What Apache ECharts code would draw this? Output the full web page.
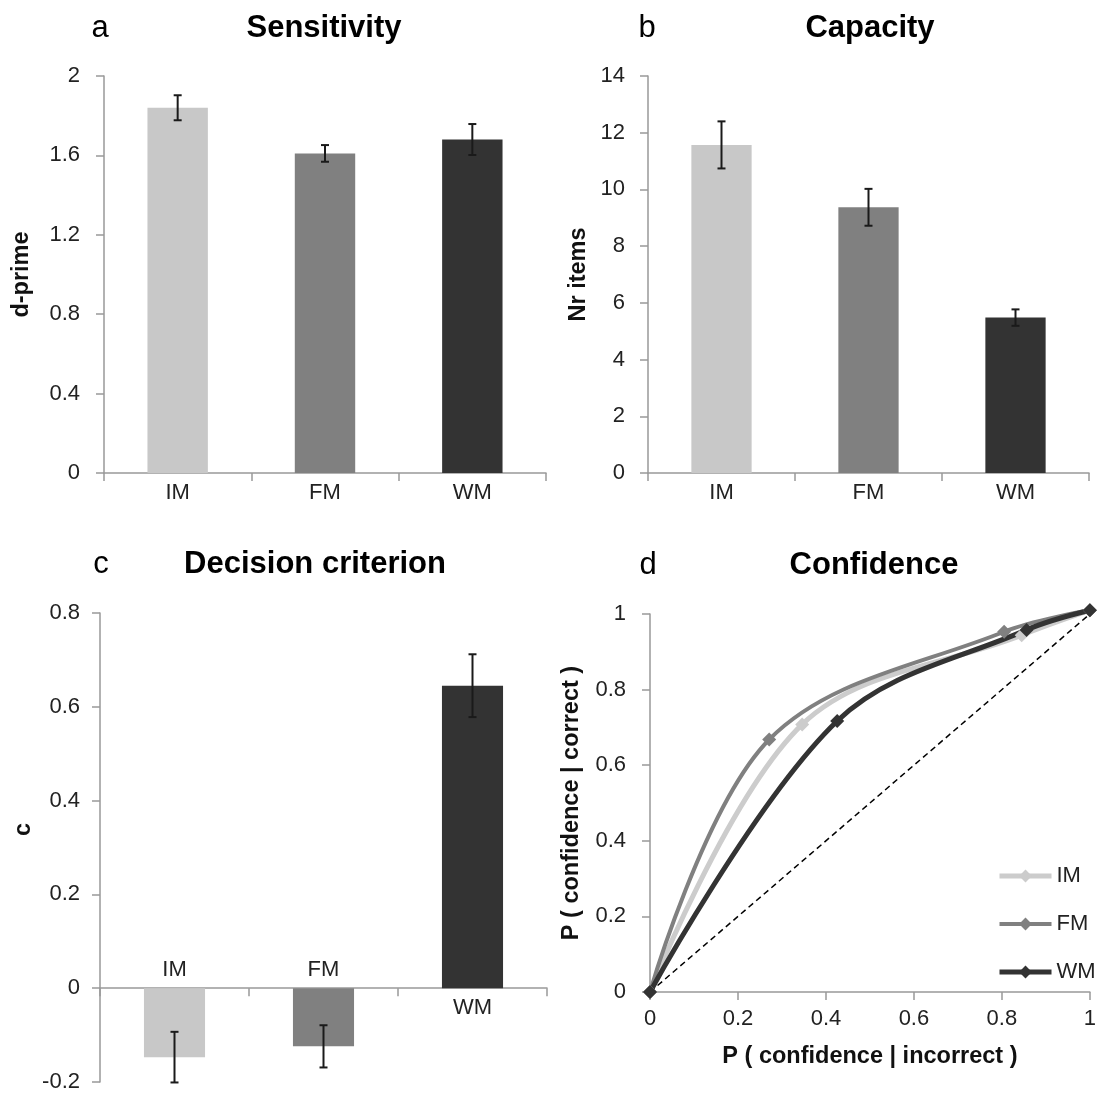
<!DOCTYPE html>
<html><head><meta charset="utf-8">
<script src="https://cdn.jsdelivr.net/npm/echarts@6/dist/echarts.min.js"></script>
<style>html,body{margin:0;padding:0;background:#fff}#c{width:1099px;height:1094px}</style>
</head><body><div id="c"></div>
<script>
// ---- data ----
const categories = ['IM', 'FM', 'WM'];
const barColors = ['#c8c8c8', '#808080', '#333333'];

const sensitivity = [1.84, 1.61, 1.68];
const sensitivityErr = [0.063, 0.042, 0.078];

const capacity = [11.57, 9.37, 5.48];
const capacityErr = [0.83, 0.65, 0.29];

const criterion = [-0.147, -0.124, 0.645];
const criterionErr = [0.054, 0.045, 0.067];

const rocIMx = [0, 0.346, 0.845, 1];
const rocIMy = [0, 0.708, 0.944, 1.01];
const rocFMx = [0, 0.271, 0.805, 1];
const rocFMy = [0, 0.668, 0.953, 1.01];
const rocWMx = [0, 0.4255, 0.856, 1];
const rocWMy = [0, 0.717, 0.958, 1.01];
const chanceX = [0, 1];
const chanceY = [0, 1];

const rocColors = ['#cccccc', '#808080', '#333333'];

// ---- styling helpers ----
const FONT = 'Liberation Sans, Arial, sans-serif';
const AX = '#999999';
const fmt = v => String(+v.toFixed(1));

function valueAxis(grid, min, max, interval, margin, name, nameGap, extra) {
  return Object.assign({
    type: 'value', gridIndex: grid, min: min, max: max, interval: interval,
    axisLine: { show: true, lineStyle: { color: AX, width: 1.5 } },
    axisTick: { show: true, length: 8, lineStyle: { color: AX, width: 1.5 } },
    splitLine: { show: false },
    axisLabel: { fontSize: 22, color: '#222', fontFamily: FONT, margin: margin, formatter: fmt },
    name: name, nameLocation: 'middle', nameGap: nameGap,
    nameTextStyle: { fontSize: 23.5, fontWeight: 'bold', color: '#111', fontFamily: FONT }
  }, extra || {});
}
function catAxis(grid, showLabel) {
  return {
    type: 'category', gridIndex: grid, data: categories,
    axisLine: { show: true, lineStyle: { color: AX, width: 1.5 } },
    axisTick: { show: true, length: 8, lineStyle: { color: AX, width: 1.5 } },
    axisLabel: { show: showLabel, fontSize: 22, color: '#222', fontFamily: FONT, margin: 9 },
    splitLine: { show: false }
  };
}
function barSeries(grid, values, labels) {
  return {
    type: 'bar', name: 'bars' + grid, xAxisIndex: grid, yAxisIndex: grid,
    barWidth: '41%', silent: true,
    data: values.map((v, i) => {
      const d = { value: v, itemStyle: { color: barColors[i] } };
      if (labels) {
        d.label = {
          show: true, position: v < 0 ? 'top' : 'bottom', distance: v < 0 ? 7 : 9,
          formatter: categories[i], fontSize: 22, color: '#222', fontFamily: FONT
        };
      }
      return d;
    })
  };
}
function errSeries(grid, values, errs) {
  return {
    type: 'custom', name: 'err' + grid, xAxisIndex: grid, yAxisIndex: grid, z: 5, silent: true,
    data: values.map((v, i) => [i, v, errs[i]]),
    encode: { x: 0, y: 1 },
    renderItem: function (params, api) {
      const x = api.value(0), v = api.value(1), e = api.value(2);
      const t = api.coord([x, v + e]);
      const b = api.coord([x, v - e]);
      const hw = 4;
      const st = { stroke: '#1a1a1a', lineWidth: 2 };
      return {
        type: 'group', children: [
          { type: 'line', shape: { x1: t[0], y1: t[1], x2: b[0], y2: b[1] }, style: st },
          { type: 'line', shape: { x1: t[0] - hw, y1: t[1], x2: t[0] + hw, y2: t[1] }, style: st },
          { type: 'line', shape: { x1: b[0] - hw, y1: b[1], x2: b[0] + hw, y2: b[1] }, style: st }
        ]
      };
    }
  };
}
const zip = (xs, ys) => xs.map((x, i) => [x, ys[i]]);
function rocSeries(name, xs, ys, color, width) {
  return {
    type: 'line', name: name, xAxisIndex: 3, yAxisIndex: 3, data: zip(xs, ys),
    smooth: 0.35, symbol: 'diamond', symbolSize: 14, clip: false,
    lineStyle: { color: color, width: width }, itemStyle: { color: color }
  };
}
function txt(text, x, y, bold) {
  return {
    type: 'text', x: x, y: y, silent: true,
    style: {
      text: text, font: (bold ? 'bold ' : '') + '31px ' + FONT, fill: '#000',
      align: 'center', verticalAlign: 'middle', textAlign: 'center', textVerticalAlign: 'middle'
    }
  };
}

const option = {
  animation: false,
  backgroundColor: '#fff',
  grid: [
    { left: 104, top: 76, width: 442, height: 397 },
    { left: 648, top: 76, width: 441, height: 397 },
    { left: 100, top: 613, width: 447, height: 469 },
    { left: 650, top: 614, width: 442, height: 378 }
  ],
  xAxis: [
    catAxis(0, true),
    catAxis(1, true),
    catAxis(2, false),
    valueAxis(3, 0, 1, 0.2, 16, 'P ( confidence | incorrect )', 53)
  ],
  yAxis: [
    valueAxis(0, 0, 2, 0.4, 24, 'd-prime', 70),
    valueAxis(1, 0, 14, 2, 23, 'Nr items', 57),
    valueAxis(2, -0.2, 0.8, 0.2, 20, 'c', 64, {}),
    valueAxis(3, 0, 1, 0.2, 24, 'P ( confidence | correct )', 66)
  ],
  legend: {
    data: categories, orient: 'vertical', left: 992, top: 860,
    itemWidth: 52, itemHeight: 16, itemGap: 26,
    lineStyle: { width: 'inherit' },
    textStyle: { fontSize: 22, color: '#222', fontFamily: FONT }
  },
  graphic: [
    txt('a', 100, 28, false), txt('Sensitivity', 324, 28, true),
    txt('b', 647, 28, false), txt('Capacity', 870, 28, true),
    txt('c', 101, 564, false), txt('Decision criterion', 315, 564, true),
    txt('d', 648, 565, false), txt('Confidence', 874, 565, true)
  ],
  series: [
    barSeries(0, sensitivity, false), errSeries(0, sensitivity, sensitivityErr),
    barSeries(1, capacity, false), errSeries(1, capacity, capacityErr),
    barSeries(2, criterion, true), errSeries(2, criterion, criterionErr),
    {
      type: 'line', name: 'chance', xAxisIndex: 3, yAxisIndex: 3, data: zip(chanceX, chanceY),
      symbol: 'none', silent: true, lineStyle: { color: '#000', width: 1.5, type: [6, 4] }
    },
    rocSeries('IM', rocIMx, rocIMy, rocColors[0], 5),
    rocSeries('FM', rocFMx, rocFMy, rocColors[1], 4),
    rocSeries('WM', rocWMx, rocWMy, rocColors[2], 5)
  ]
};
// shift the rotated "c" name upward a little
option.yAxis[2].nameTextStyle = Object.assign({}, option.yAxis[2].nameTextStyle, { padding: [0, 0, 0, 36] });

const chart = echarts.init(document.getElementById('c'), null, { renderer: 'canvas' });
chart.setOption(option);
</script>
</body></html>
